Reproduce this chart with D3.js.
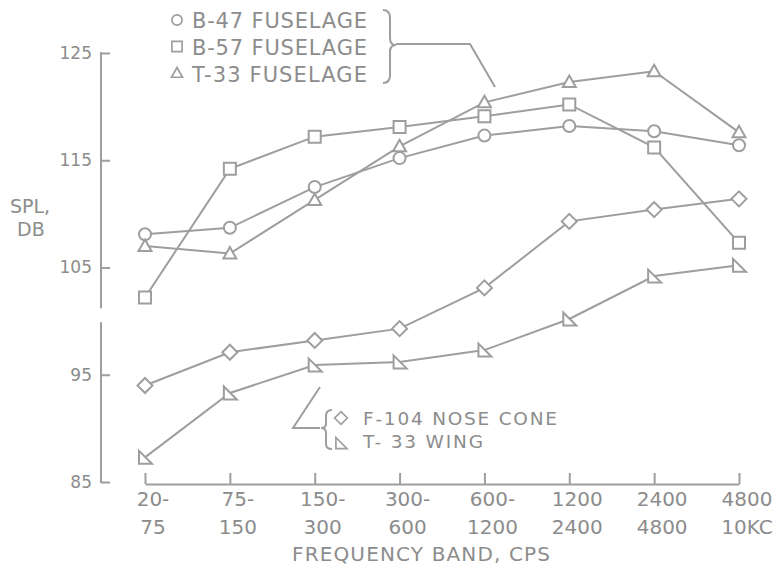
<!DOCTYPE html>
<html>
<head>
<meta charset="utf-8">
<script src="https://cdn.jsdelivr.net/npm/d3@7"></script>
<style>
  body { margin: 0; background: #fff; }
  text { font-family: "DejaVu Sans", sans-serif; fill: #8c8c8c; }
</style>
</head>
<body>
<div class="spl-chart"></div>
<script>
//Width and height
var width = 784;
var height = 570;
var ink = '#9e9e9e';

// Frequency bands (categories) and their two-line labels
var bands = ['20-75', '75-150', '150-300', '300-600', '600-1200', '1200-2400', '2400-4800', '4800-10KC'];
var bandTop = ['20-', '75-', '150-', '300-', '600-', '1200', '2400', '4800'];
var bandBottom = ['75', '150', '300', '600', '1200', '2400', '4800', '10KC'];

// SPL, dB, per band
var b47Fuselage = [108.1, 108.7, 112.5, 115.2, 117.3, 118.2, 117.7, 116.4];
var b57Fuselage = [102.2, 114.2, 117.2, 118.1, 119.1, 120.2, 116.2, 107.3];
var t33Fuselage = [107.0, 106.3, 111.3, 116.3, 120.4, 122.3, 123.3, 117.6];
var f104NoseCone = [94.0, 97.1, 98.2, 99.3, 103.1, 109.3, 110.4, 111.4];
var t33Wing = [87.3, 93.3, 95.9, 96.2, 97.3, 100.2, 104.2, 105.2];

var seriesNames = ['B-47 FUSELAGE', 'B-57 FUSELAGE', 'T-33 FUSELAGE', 'F-104 NOSE CONE', 'T- 33 WING'];
var seriesMarkers = ['circle', 'square', 'triangle', 'diamond', 'wing'];

// Y axis ticks and the gap in the axis line
var yTicks = [85, 95, 105, 115, 125];
var yBreak = [99.8, 101.3];

var series = [b47Fuselage, b57Fuselage, t33Fuselage, f104NoseCone, t33Wing].map(function(vals, i) {
  return { name: seriesNames[i], marker: seriesMarkers[i], values: vals };
});

// Scales
var xScale = d3.scalePoint()
               .domain(bands)
               .range([145, 739]);

var yScale = d3.scaleLinear()
               .domain([85, 125])
               .range([482, 53]);

// Open marker shapes
var markerPath = function(type) {
  var p = d3.path();
  if (type === 'circle') {
    p.arc(0, 0, 6, 0, 2 * Math.PI);
  } else if (type === 'square') {
    p.rect(-6, -6, 12, 12);
  } else if (type === 'triangle') {
    p.moveTo(0, -6.5); p.lineTo(6.5, 5); p.lineTo(-6.5, 5); p.closePath();
  } else if (type === 'diamond') {
    p.moveTo(0, -7.5); p.lineTo(7.5, 0); p.lineTo(0, 7.5); p.lineTo(-7.5, 0); p.closePath();
  } else {
    p.moveTo(-6, -6.5); p.lineTo(-6, 6.5); p.lineTo(7, 6.5); p.closePath();
  }
  return p.toString();
};

//Create SVG element
var svg = d3.select('.spl-chart')
            .append('svg')
            .attr('width', width)
            .attr('height', height);

// Y axis, ticks pointing inward
var yAxis = d3.axisLeft()
              .scale(yScale)
              .tickValues(yTicks)
              .tickSize(-9)
              .tickPadding(9);

var yG = svg.append('g')
            .attr('transform', 'translate(101,0)')
            .call(yAxis);
yG.select('.domain').remove();
yG.selectAll('line').attr('stroke', ink).attr('stroke-width', 2);
yG.selectAll('text')
  .attr('font-family', 'DejaVu Sans')
  .attr('font-size', 17)
  .attr('fill', '#8c8c8c');

// broken axis line
yG.selectAll('.seg')
  .data([[85, yBreak[0]], [yBreak[1], 125]])
  .enter()
  .append('line')
  .attr('x1', 0).attr('x2', 0)
  .attr('y1', function(d) { return yScale(d[0]) + 1; })
  .attr('y2', function(d) { return yScale(d[1]) - 1; })
  .attr('stroke', ink)
  .attr('stroke-width', 2);

// X axis, ticks pointing up
var xAxis = d3.axisBottom()
              .scale(xScale)
              .tickSize(-11)
              .tickSizeOuter(0)
              .tickFormat('');

var xG = svg.append('g')
            .attr('transform', 'translate(0,484)')
            .call(xAxis);
xG.selectAll('path, line').attr('stroke', ink).attr('stroke-width', 2);

svg.selectAll('.band-top')
   .data(bandTop)
   .enter()
   .append('text')
   .attr('x', function(d, i) { return xScale(bands[i]) + 8; })
   .attr('y', 506)
   .attr('text-anchor', 'middle')
   .style('font-size', '20px')
   .text(function(d) { return d; });

svg.selectAll('.band-bottom')
   .data(bandBottom)
   .enter()
   .append('text')
   .attr('x', function(d, i) { return xScale(bands[i]) + 8; })
   .attr('y', 534)
   .attr('text-anchor', 'middle')
   .style('font-size', '20px')
   .text(function(d) { return d; });

svg.append('text')
   .attr('x', 292)
   .attr('y', 561)
   .attr('textLength', 258)
   .style('font-size', '20px')
   .text('FREQUENCY BAND, CPS');

// Y title
svg.append('text').attr('x', 10).attr('y', 213).style('font-size', '19px').text('SPL,');
svg.append('text').attr('x', 17).attr('y', 236).style('font-size', '19px').text('DB');

// Lines
var line = d3.line()
             .x(function(d, i) { return xScale(bands[i]); })
             .y(function(d) { return yScale(d); });

svg.selectAll('.series')
   .data(series)
   .enter()
   .append('path')
   .attr('d', function(d) { return line(d.values); })
   .style('fill', 'none')
   .style('stroke', ink)
   .style('stroke-width', 2);

// Markers
series.forEach(function(s) {
  svg.selectAll(null)
     .data(s.values)
     .enter()
     .append('path')
     .attr('transform', function(d, i) { return 'translate(' + xScale(bands[i]) + ',' + yScale(d) + ')'; })
     .attr('d', markerPath(s.marker))
     .style('fill', 'white')
     .style('stroke', ink)
     .style('stroke-width', 2);
});

// Top legend
var topLegend = svg.append('g');
[0, 1, 2].forEach(function(k, i) {
  topLegend.append('path')
           .attr('transform', 'translate(177,' + (20 + i * 26.5) + ') scale(0.85)')
           .attr('d', markerPath(series[k].marker))
           .style('fill', 'white')
           .style('stroke', ink)
           .style('stroke-width', 2);
  topLegend.append('text')
           .attr('x', 192)
           .attr('y', 28 + i * 27)
           .attr('textLength', 175)
           .style('font-size', '21px')
           .text(series[k].name);
});
topLegend.append('path')
         .attr('d', 'M383,10 Q390,10 390,18 L390,38 Q390,45 396,45 Q390,45 390,52 L390,75 Q390,83 383,83')
         .style('fill', 'none')
         .style('stroke', ink)
         .style('stroke-width', 2);
topLegend.append('path')
         .attr('d', 'M396,44 L470,44 L495,87')
         .style('fill', 'none')
         .style('stroke', ink)
         .style('stroke-width', 2);

// Bottom legend
var botLegend = svg.append('g');
[3, 4].forEach(function(k, i) {
  botLegend.append('path')
           .attr('transform', 'translate(341,' + (418 + i * 25) + ') scale(0.85)')
           .attr('d', markerPath(series[k].marker))
           .style('fill', 'white')
           .style('stroke', ink)
           .style('stroke-width', 2);
});
botLegend.append('text').attr('x', 363).attr('y', 425).attr('textLength', 194)
         .style('font-size', '18.5px').text(series[3].name);
botLegend.append('text').attr('x', 363).attr('y', 448).attr('textLength', 120)
         .style('font-size', '18.5px').text(series[4].name);
botLegend.append('path')
         .attr('d', 'M332,410 Q326,410 326,416 L326,424 Q326,428 321,428 Q326,428 326,433 L326,444 Q326,449 332,449')
         .style('fill', 'none')
         .style('stroke', ink)
         .style('stroke-width', 2);
botLegend.append('path')
         .attr('d', 'M320,428 L293,428 L320,387')
         .style('fill', 'none')
         .style('stroke', ink)
         .style('stroke-width', 2);
</script>
</body>
</html>
